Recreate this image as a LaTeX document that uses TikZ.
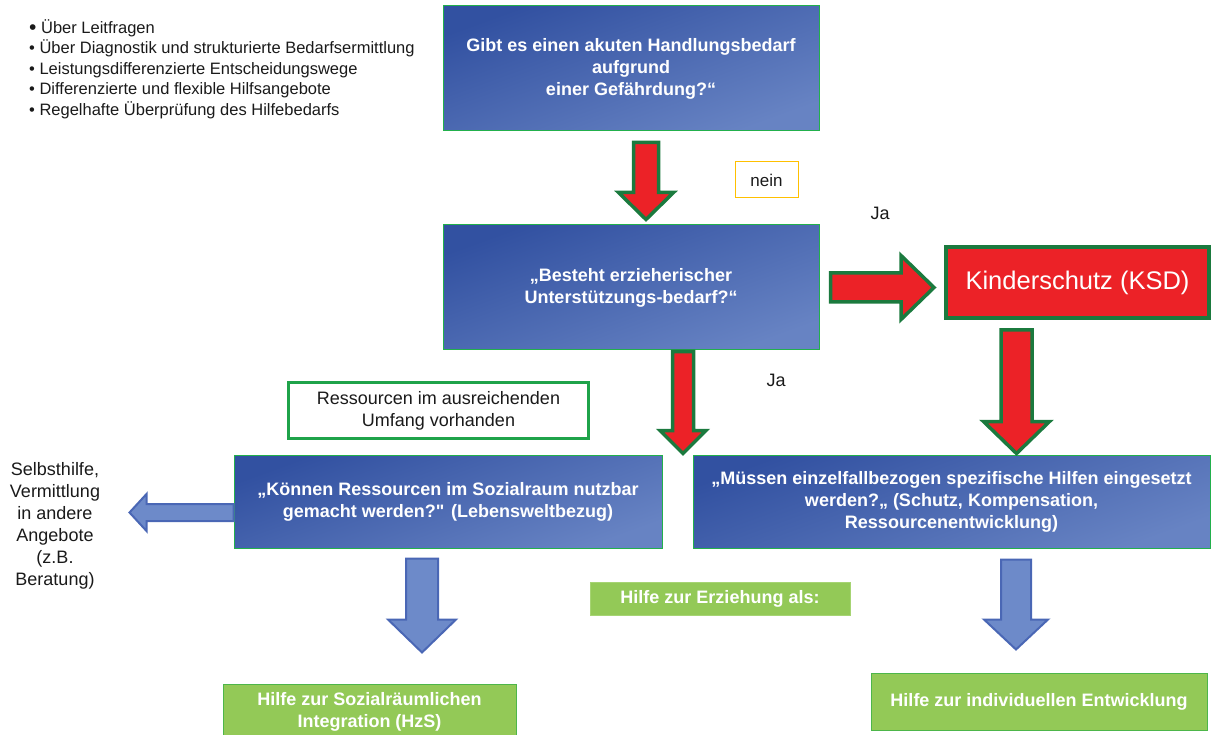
\documentclass[tikz,border=0pt]{standalone}
\usepackage{fontspec}
\setmainfont{Liberation Sans}
\usetikzlibrary{calc}

\definecolor{boxdark}{HTML}{3251A1}
\definecolor{boxlight}{HTML}{6783C3}
\definecolor{boxedge}{HTML}{22B04C}
\definecolor{alarm}{HTML}{EC2227}
\definecolor{alarmedge}{HTML}{1B7A3E}
\definecolor{flowfill}{HTML}{6D8AC9}
\definecolor{flowedge}{HTML}{4A67B5}
\definecolor{leaf}{HTML}{93C957}
\definecolor{leafedge}{HTML}{4DB64A}
\definecolor{leafsoft}{HTML}{A6D473}
\definecolor{noteedge}{HTML}{FFC000}
\definecolor{resedge}{HTML}{1FA34A}
\definecolor{ink}{HTML}{1A1A1A}

\tikzset{
  question/.style={rectangle, draw=boxedge, line width=1pt,
    top color=boxdark, bottom color=boxlight, shading angle=20,
    text=white, align=center, inner sep=0pt,
    font=\bfseries\fontsize{18}{22}\selectfont},
  outcome/.style={rectangle, fill=leaf, draw=leafedge, line width=1pt,
    text=white, align=center, inner sep=0pt,
    font=\bfseries\fontsize{18}{22}\selectfont},
  plain/.style={text=ink, align=center, inner sep=0pt,
    font=\fontsize{18}{22}\selectfont},
  redblock/.style={fill=alarm, draw=alarmedge, line width=3.5pt, line join=miter},
  blueblock/.style={fill=flowfill, draw=flowedge, line width=2pt, line join=miter}
}

% vertical block arrow: style, top coordinate, tip coordinate,
% shaft half-width, head half-width, head length
\newcommand\vblockarrow[6]{%
  \draw[#1] let \p1=(#2), \p2=(#3) in
    ({\x1-#4pt},\y1) -- ({\x1-#4pt},{\y2+#6pt}) -- ({\x1-#5pt},{\y2+#6pt})
    -- (\x1,\y2) -- ({\x1+#5pt},{\y2+#6pt}) -- ({\x1+#4pt},{\y2+#6pt})
    -- ({\x1+#4pt},\y1) -- cycle;}
% horizontal block arrow: style, tail coordinate, tip coordinate,
% shaft half-width, head half-width, signed head length (towards the tail)
\newcommand\hblockarrow[6]{%
  \draw[#1] let \p1=(#2), \p2=(#3) in
    (\x1,{\y1+#4pt}) -- ({\x2+(#6)*1pt},{\y1+#4pt}) -- ({\x2+(#6)*1pt},{\y1+#5pt})
    -- (\x2,\y1) -- ({\x2+(#6)*1pt},{\y1-#5pt}) -- ({\x2+(#6)*1pt},{\y1-#4pt})
    -- (\x1,{\y1-#4pt}) -- cycle;}

\begin{document}
\begin{tikzpicture}[x=1pt,y=-1pt]
\useasboundingbox (0,0) rectangle (1213,735);

% guiding principles
\node[anchor=west, align=left, inner sep=0pt, text=ink,
      font=\fontsize{16.5}{20.5}\selectfont] (list) at (29,69)
  {{\fontsize{21}{16}\selectfont\raisebox{-1pt}{•}} Über Leitfragen\\
   • Über Diagnostik und strukturierte Bedarfsermittlung\\
   • Leistungsdifferenzierte Entscheidungswege\\
   • Differenzierte und flexible Hilfsangebote\\
   • Regelhafte Überprüfung des Hilfebedarfs};

% decision boxes
\node[question, minimum width=376pt, minimum height=125pt] (b1) at (631,68.5)
  {Gibt es einen akuten Handlungsbedarf\\aufgrund\\ einer Gefährdung?“};
\node[question, minimum width=376pt, minimum height=125pt] (b2) at (631,287.5)
  {„Besteht erzieherischer\\Unterstützungs-bedarf?“};
\node[question, minimum width=428pt, minimum height=93pt] (b3) at (448,501.5)
  {„Können Ressourcen im Sozialraum nutzbar\\gemacht werden?\textquotedbl{} (Lebensweltbezug)};
\node[question, minimum width=517pt, minimum height=93pt] (b4) at (951.5,501.5)
  {„Müssen einzelfallbezogen spezifische Hilfen eingesetzt\\werden?„ (Schutz, Kompensation,\\Ressourcenentwicklung)};

% child protection
\node[rectangle, fill=alarm, draw=alarmedge, line width=4pt, text=white,
      minimum width=263pt, minimum height=71pt, inner sep=0pt,
      font=\fontsize{25.5}{30}\selectfont] (ksd) at (1077.5,282.5) {Kinderschutz (KSD)};

% labels
\node[plain, draw=noteedge, line width=1pt, minimum width=63pt, minimum height=36pt,
      font=\fontsize{17}{20}\selectfont] (nein) at (766.5,180) {nein};
\node[plain] (ja1) at (880,213) {Ja};
\node[plain] (ja2) at (776,380) {Ja};
\node[plain, draw=resedge, line width=3pt, fill=white,
      minimum width=300pt, minimum height=56pt] (res) at (438.5,410.5)
  {Ressourcen im ausreichenden\\Umfang vorhanden};
\node[plain] (self) at (55,526)
  {Selbsthilfe,\\Vermittlung\\in andere\\Angebote\\(z.B.\\Beratung)};

% kinds of help
\node[outcome, draw=leafsoft, minimum width=260pt, minimum height=33pt] (hze) at (720,598.5)
  {Hilfe zur Erziehung als:};
\node[outcome, minimum width=293pt, minimum height=56pt] (hzs) at (369.5,712)
  {Hilfe zur Sozialräumlichen\\Integration (HzS)};
\node[outcome, minimum width=336pt, minimum height=57pt] (hie) at (1039,701.5)
  {Hilfe zur individuellen Entwicklung};

% arrow end points
\coordinate (a1top) at ($(b1.south)+(15,11)$);
\coordinate (a1tip) at ($(b2.north)+(15,-5)$);
\coordinate (a2tail) at ($(b2.east)+(11,0)$);
\coordinate (a2tip) at ($(ksd.west)+(-10,0)$);
\coordinate (a3top) at ($(b2.south)+(52,1)$);
\coordinate (a3tip) at ($(a3top |- b4.north)+(0,-1)$);
\coordinate (a4top) at ($(ksd.south)+(-61,10)$);
\coordinate (a4tip) at ($(a4top |- b4.north)+(0,-1)$);
\coordinate (a5tail) at ($(b3.west)+(0,11)$);
\coordinate (a5tip) at ($(b3.west)+(-104,11)$);
\coordinate (a6top) at ($(b3.south)+(-26,10)$);
\coordinate (a6tip) at ($(a6top |- hzs.north)+(0,-31)$);
\coordinate (a7top) at ($(b4.south)+(64.5,11)$);
\coordinate (a7tip) at ($(a7top |- hie.north)+(0,-23)$);

% block arrows
\vblockarrow{redblock}{a1top}{a1tip}{12.5}{27.5}{27}
\hblockarrow{redblock}{a2tail}{a2tip}{14.5}{32}{-33}
\vblockarrow{redblock}{a3top}{a3tip}{10.5}{23}{23}
\vblockarrow{redblock}{a4top}{a4tip}{15.5}{33}{32}
\hblockarrow{blueblock}{a5tail}{a5tip}{8.5}{18.5}{17}
\vblockarrow{blueblock}{a6top}{a6tip}{16}{34}{33}
\vblockarrow{blueblock}{a7top}{a7tip}{15}{32}{30}
\end{tikzpicture}
\end{document}
